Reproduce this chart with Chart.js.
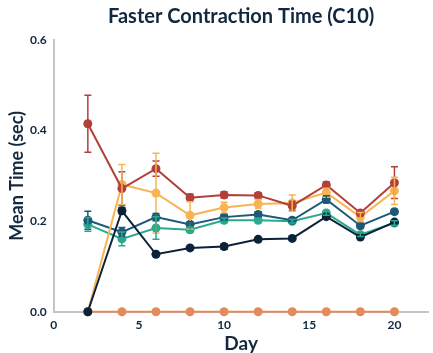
<!DOCTYPE html>
<html>
<head>
<meta charset="utf-8">
<script src="https://cdn.jsdelivr.net/npm/chart.js@4"></script>
<style>
  html, body { margin: 0; padding: 0; background: #fff; }
  #wrap { width: 433px; height: 353px; }
</style>
</head>
<body>
<div id="wrap"><canvas id="grafiek"></canvas></div>
<script>
const dagen = [2, 4, 6, 8, 10, 12, 14, 16, 18, 20];

const rood = [0.415, 0.272, 0.316, 0.252, 0.258, 0.257, 0.234, 0.28, 0.218, 0.285];
const roodFout = [0.063, 0.037, 0.017, 0.008, 0.007, 0.006, 0.01, 0.007, 0.005, 0.035];

const geel = [0, 0.281, 0.262, 0.213, 0.23, 0.238, 0.24, 0.263, 0.209, 0.267];
const geelFout = [0, 0.044, 0.088, 0.03, 0.012, 0.01, 0.018, 0.01, 0.01, 0.03];

const blauw = [0.202, 0.176, 0.209, 0.193, 0.209, 0.215, 0.202, 0.248, 0.19, 0.221];
const blauwFout = [0.02, 0.01, 0.008, 0.006, 0.006, 0.006, 0.005, 0.008, 0.005, 0.005];

const groen = [0.193, 0.161, 0.185, 0.181, 0.202, 0.202, 0.2, 0.218, 0.17, 0.196];
const groenFout = [0.015, 0.015, 0.025, 0.006, 0.005, 0.005, 0.004, 0.005, 0.004, 0.005];

const marine = [0, 0.223, 0.127, 0.141, 0.144, 0.16, 0.162, 0.21, 0.165, 0.198];
const marineFout = [0, 0.007, 0, 0, 0.006, 0, 0, 0, 0, 0];

const oranje = [0, 0, 0, 0, 0, 0, 0, 0, 0, 0];

const xTicks = [0, 5, 10, 15, 20, 22];
const yTicks = [0, 0.2, 0.4, 0.6];

const tekst = '#11283f';

function reeks(waarden, kleur, fout, volgorde) {
    return {
        data: dagen.map((d, i) => ({ x: d, y: waarden[i] })),
        fout: fout,
        borderColor: kleur,
        backgroundColor: kleur,
        borderWidth: 2,
        pointRadius: 4.5,
        pointHoverRadius: 4.5,
        pointBorderWidth: 0,
        clip: false,
        order: volgorde
    };
}

const foutbalken = {
    id: 'foutbalken',
    afterDatasetsDraw(chart) {
        const ctx = chart.ctx;
        const xs = chart.scales.x, ys = chart.scales.y;
        ctx.save();
        ctx.lineWidth = 1.5;
        chart.data.datasets.forEach(ds => {
            if (!ds.fout) return;
            ctx.strokeStyle = ds.borderColor;
            ds.data.forEach((p, i) => {
                const e = ds.fout[i];
                if (!e) return;
                const x = xs.getPixelForValue(p.x);
                const y1 = ys.getPixelForValue(p.y - e);
                const y2 = ys.getPixelForValue(p.y + e);
                ctx.beginPath();
                ctx.moveTo(x, y1); ctx.lineTo(x, y2);
                ctx.moveTo(x - 3.5, y1); ctx.lineTo(x + 3.5, y1);
                ctx.moveTo(x - 3.5, y2); ctx.lineTo(x + 3.5, y2);
                ctx.stroke();
            });
        });
        ctx.restore();
    }
};

new Chart(document.getElementById('grafiek').getContext('2d'), {
    type: 'line',
    data: {
        datasets: [
            reeks(marine, '#0b2239', marineFout, 0),
            reeks(rood, '#b2403a', roodFout, 1),
            reeks(geel, '#f8b452', geelFout, 2),
            reeks(blauw, '#1c5a78', blauwFout, 3),
            reeks(groen, '#2aaa8c', groenFout, 4),
            reeks(oranje, '#e38b5c', null, 5)
        ]
    },
    options: {
        responsive: true,
        maintainAspectRatio: false,
        animation: false,
        layout: { padding: { top: 3, right: 0, bottom: 0, left: 8 } },
        scales: {
            x: {
                type: 'linear',
                min: 0,
                max: 22,
                afterBuildTicks: s => { s.ticks = xTicks.map(v => ({ value: v })); },
                grid: { display: false, drawOnChartArea: false, drawTicks: true, tickLength: 5, color: '#c4c4c8', tickWidth: 2 },
                border: { color: '#c4c4c8', width: 2 },
                ticks: {
                    color: tekst,
                    font: { family: 'Lato', size: 12, weight: 'bold', lineHeight: 1.1 },
                    padding: 2,
                    maxRotation: 0,
                    callback: v => (v === 22 ? '' : v)
                },
                title: { display: true, text: 'Day', color: tekst, font: { family: 'Lato', size: 19, weight: 'bold', lineHeight: 1 }, padding: { top: 0, bottom: 0 } }
            },
            y: {
                min: 0,
                max: 0.6,
                afterBuildTicks: s => { s.ticks = yTicks.map(v => ({ value: v })); },
                grid: { display: false, drawOnChartArea: false, drawTicks: true, tickLength: 5, color: '#c4c4c8', tickWidth: 2 },
                border: { color: '#c4c4c8', width: 2 },
                ticks: {
                    color: tekst,
                    font: { family: 'Lato', size: 12, weight: 'bold' },
                    padding: 2,
                    callback: v => v.toFixed(1)
                },
                title: { display: true, text: 'Mean Time (sec)', color: tekst, font: { family: 'Lato', size: 18, weight: 'bold', lineHeight: 1 }, padding: { top: 0, bottom: 2 } }
            }
        },
        plugins: {
            legend: { display: false },
            tooltip: { enabled: false },
            title: {
                display: true,
                fullSize: false,
                text: 'Faster Contraction Time (C10)',
                color: tekst,
                font: { family: 'Lato', size: 20, weight: 'bold' },
                padding: { top: 2, bottom: 11 }
            }
        }
    },
    plugins: [foutbalken]
});
</script>
</body>
</html>
